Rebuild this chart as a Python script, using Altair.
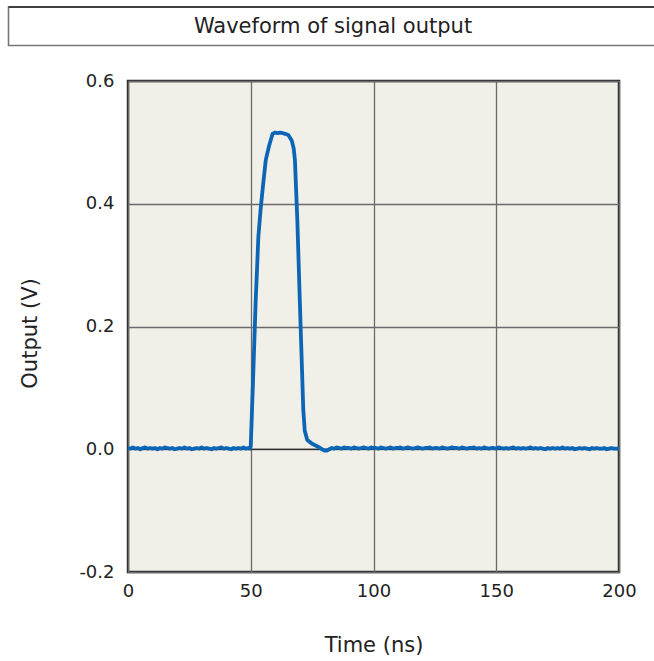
import altair as alt
import pandas as pd

# ---- data ----
pre_t = list(range(0, 50))
pre_v = [0.002, 0.001, 0.003, 0.001, 0.002, 0.000, 0.002, 0.003, 0.001, 0.002,
         0.001, 0.002, 0.000, 0.002, 0.001, 0.003, 0.002, 0.001, 0.002, 0.000,
         0.001, 0.002, 0.001, 0.003, 0.001, 0.002, 0.000, 0.001, 0.002, 0.001,
         0.003, 0.001, 0.002, 0.001, 0.000, 0.002, 0.001, 0.002, 0.003, 0.001,
         0.002, 0.001, 0.000, 0.002, 0.001, 0.002, 0.001, 0.003, 0.001, 0.002]

pulse_t = [49.6, 50.0, 51.0, 52.0, 53.1, 54.0, 55.0, 56.1, 57.5, 58.9, 60.0, 61.0,
           62.0, 63.0, 64.0, 65.3, 66.7, 67.5, 68.0, 69.0, 70.0, 71.4, 72.0, 73.0,
           74.0, 75.0, 76.0, 77.0, 78.0, 79.0, 80.0, 81.0, 82.0]
pulse_v = [0.001, 0.005, 0.12, 0.24, 0.346, 0.39, 0.43, 0.471, 0.495, 0.514, 0.516, 0.515,
           0.516, 0.515, 0.514, 0.512, 0.503, 0.49, 0.471, 0.37, 0.24, 0.064, 0.03, 0.015,
           0.012, 0.009, 0.007, 0.005, 0.003, 0.000, -0.002, -0.002, 0.000]

post_t = list(range(83, 201))
post_v = [0.002, 0.001, 0.003, 0.002, 0.001, 0.003, 0.002, 0.002, 0.001, 0.003,
          0.002, 0.001, 0.002, 0.003, 0.002, 0.001, 0.003, 0.002, 0.002, 0.001,
          0.003, 0.002, 0.001, 0.002, 0.003, 0.001, 0.002, 0.002, 0.003, 0.001,
          0.002, 0.003, 0.002, 0.001, 0.002, 0.003, 0.002, 0.001, 0.002, 0.002,
          0.003, 0.001, 0.002, 0.002, 0.001, 0.003, 0.002, 0.001, 0.002, 0.003,
          0.002, 0.002, 0.001, 0.003, 0.002, 0.001, 0.002, 0.002, 0.003, 0.001,
          0.002, 0.001, 0.003, 0.002, 0.001, 0.002, 0.002, 0.001, 0.003, 0.002,
          0.001, 0.002, 0.001, 0.002, 0.003, 0.001, 0.002, 0.001, 0.002, 0.001,
          0.002, 0.003, 0.001, 0.002, 0.001, 0.002, 0.001, 0.000, 0.002, 0.001,
          0.002, 0.001, 0.002, 0.001, 0.003, 0.001, 0.002, 0.001, 0.002, 0.000,
          0.001, 0.002, 0.001, 0.002, 0.001, 0.000, 0.002, 0.001, 0.002, 0.001,
          0.001, 0.002, 0.000, 0.001, 0.002, 0.001, 0.001, 0.001]

x_ticks = [0, 50, 100, 150, 200]
y_ticks = [-0.2, 0.0, 0.2, 0.4, 0.6]
title_text = "Waveform of signal output"
x_title = "Time (ns)"
y_title = "Output (V)"

FONT = "DejaVu Sans"

df = pd.DataFrame({"t": pre_t + pulse_t + post_t, "v": pre_v + pulse_v + post_v})
zero_df = pd.DataFrame({"v": [0.0]})
one = pd.DataFrame({"a": [0]})

x_enc = alt.X("t:Q", title=x_title,
              scale=alt.Scale(domain=[0, 200], nice=False),
              axis=alt.Axis(values=x_ticks, format="d", ticks=False, domain=False,
                            grid=True, gridColor="#6a6a6a", gridWidth=1.3,
                            labelFontSize=18, labelPadding=10, labelColor="#222",
                            labelFlush=False,
                            titleFontSize=21, titleFontWeight="normal", titleColor="#222",
                            titleBaseline="middle", titleY=73,
                            labelFont=FONT, titleFont=FONT))
y_enc = alt.Y("v:Q", title=y_title,
              scale=alt.Scale(domain=[-0.2, 0.6], nice=False),
              axis=alt.Axis(values=y_ticks, format=".1f", ticks=False, domain=False,
                            labelExpr="replace(format(datum.value, '.1f'), '\u2212', '-')",
                            grid=True, gridColor="#6a6a6a", gridWidth=1.3,
                            labelFontSize=18, labelPadding=14, labelColor="#222",
                            titleFontSize=21, titleFontWeight="normal", titleColor="#222",
                            titleAngle=-90, titleBaseline="middle", titleX=-98, titleY=252,
                            labelFont=FONT, titleFont=FONT))

zero_rule = alt.Chart(zero_df).mark_rule(color="#1a1a1a", strokeWidth=1.2).encode(
    y=alt.Y("v:Q", scale=alt.Scale(domain=[-0.2, 0.6], nice=False))
)

line = alt.Chart(df).mark_line(color="#0c66b5", strokeWidth=3.8, strokeJoin="round").encode(
    x=x_enc, y=y_enc
)

box = alt.Chart(one).mark_rect(fill="white", stroke="#777777", strokeWidth=1.6).encode(
    x=alt.value(-119.5), x2=alt.value(540), y=alt.value(-74), y2=alt.value(-35.5)
)
box_top = alt.Chart(one).mark_rule(color="#222222", strokeWidth=1.4).encode(
    x=alt.value(-119.5), x2=alt.value(540), y=alt.value(-74)
)
title = alt.Chart(one).mark_text(text=title_text, fontSize=21, font=FONT, color="#222",
                                 baseline="middle", align="center").encode(
    x=alt.value(205), y=alt.value(-54)
)

chart = alt.layer(zero_rule, line, box, box_top, title).properties(
    width=491, height=491,
    autosize=alt.AutoSizeParams(type="none"),
    padding={"left": 128, "top": 81, "right": 35, "bottom": 89},
    background="white",
).configure_view(
    fill="#f1f0e8", stroke="#2b2b2b", strokeWidth=2.5
)

chart.save("out.html", embed_options={"renderer": "svg", "actions": False})
